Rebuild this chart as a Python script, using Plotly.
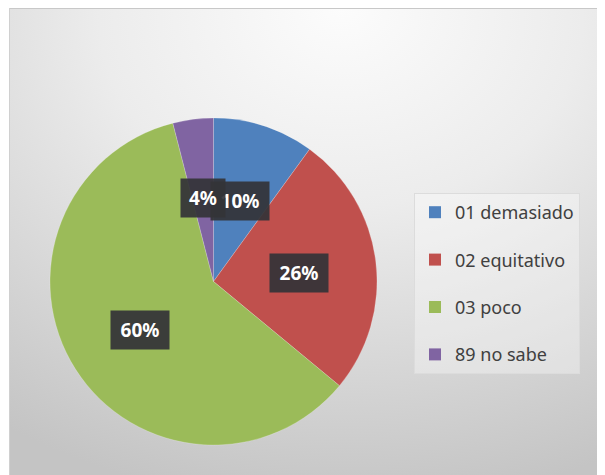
import math, base64
import plotly.graph_objects as go

categories = ["01 demasiado", "02 equitativo", "03 poco", "89 no sabe"]
values = [10, 26, 60, 4]
colors = ["#4F81BD", "#C0504D", "#9BBB59", "#8064A2"]

W, H = 605, 475
OFF = 8  # page body margin compensation
# pie placement in pixels (page coordinates)
cx, cy, R = 213.5 - OFF, 281.5 - OFF, 163.5

fig = go.Figure()

fig.add_trace(go.Pie(
    labels=categories, values=values, sort=False, direction="clockwise",
    rotation=0, marker=dict(colors=colors, line=dict(color="rgba(255,255,255,0.4)", width=0.5)),
    textinfo="none", hoverinfo="label+percent", showlegend=False,
    domain=dict(x=[(cx - R) / W, (cx + R) / W], y=[1 - (cy + R) / H, 1 - (cy - R) / H]),
))

# legend entries (one group per category so spacing can be set)
for c, col in zip(categories, colors):
    fig.add_trace(go.Scatter(
        x=[None], y=[None], mode="markers", name=c, legendgroup=c,
        marker=dict(symbol="square", size=12, color=col),
    ))

# data labels at mid-angle of each slice
total = sum(values)
annotations = []
cum = 0
for i, v in enumerate(values):
    mid = (cum + v / 2) / total * 2 * math.pi
    cum += v
    rr = 0.53 * R
    px = cx + rr * math.sin(mid)
    py = cy - rr * math.cos(mid) + 2
    txt = f"{round(v / total * 100)}%"
    annotations.append(dict(
        x=px / W, y=1 - py / H, xref="paper", yref="paper",
        xanchor="center", yanchor="middle",
        text=f"<b>{txt}</b>", showarrow=False, width=14 * len(txt) + 4,
        font=dict(family="Noto Sans", size=19, color="white"),
        bgcolor="rgba(52,52,56,0.93)", borderpad=6,
    ))

svg = """<svg xmlns='http://www.w3.org/2000/svg' width='604' height='475' viewBox='0 0 604 475'>
<defs><radialGradient id='g' cx='0.55' cy='0.05' r='1.0' fx='0.55' fy='0.0'>
<stop offset='0' stop-color='#fcfcfc'/><stop offset='0.4' stop-color='#ececec'/>
<stop offset='1' stop-color='#c4c4c4'/></radialGradient></defs>
<rect width='604' height='475' fill='url(#g)'/>
<line x1='0' y1='0.5' x2='604' y2='0.5' stroke='#c8c8c8' stroke-width='1'/>
<line x1='0.5' y1='0' x2='0.5' y2='475' stroke='#d0d0d0' stroke-width='1'/>
</svg>"""
src = "data:image/svg+xml;base64," + base64.b64encode(svg.encode()).decode()

fig.update_layout(
    width=W, height=H, margin=dict(l=0, r=0, t=0, b=0),
    paper_bgcolor="white", plot_bgcolor="rgba(0,0,0,0)",
    xaxis=dict(visible=False), yaxis=dict(visible=False),
    images=[dict(source=src, xref="paper", yref="paper", x=1 / W, y=1,
                 sizex=604 / W, sizey=1, xanchor="left", yanchor="top",
                 sizing="stretch", layer="below")],
    annotations=annotations,
    legend=dict(x=(414 - OFF) / W, y=1 - (193 - OFF) / H, xanchor="left", yanchor="top",
                bgcolor="rgba(255,255,255,0.35)", bordercolor="#dcdcdc", borderwidth=1,
                font=dict(family="Noto Sans", size=18, color="#404040"),
                tracegroupgap=21, itemsizing="constant", itemwidth=30),
    hovermode=False,
)

fig.write_html("out.html")
